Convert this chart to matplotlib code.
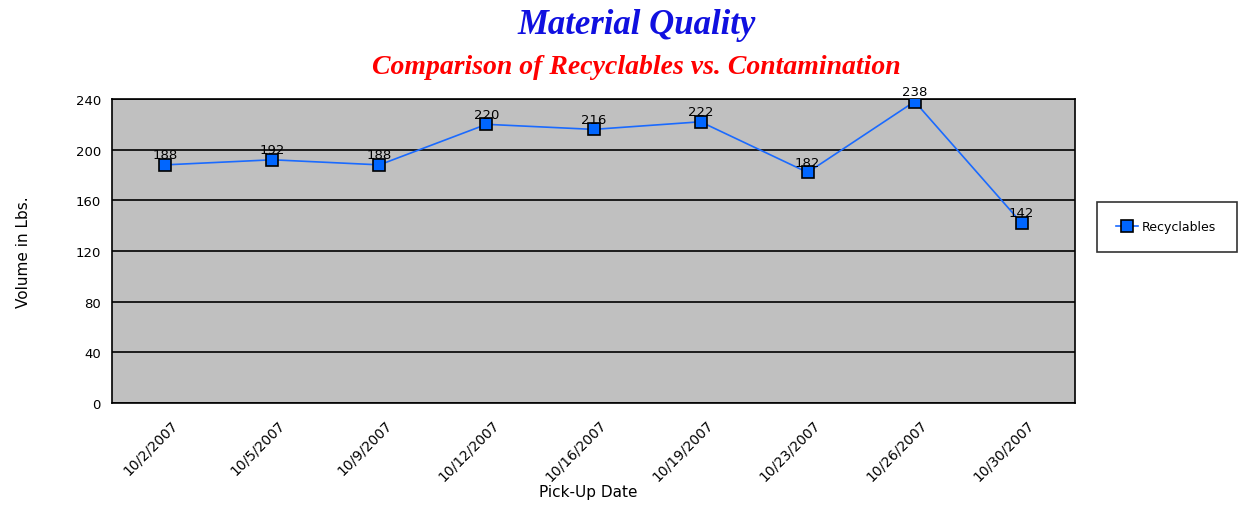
import numpy as np
import matplotlib.pyplot as plt
import matplotlib.transforms as mtransforms

# pick-up dates and weights
dates = ["10/2/2007", "10/5/2007", "10/9/2007", "10/12/2007", "10/16/2007",
         "10/19/2007", "10/23/2007", "10/26/2007", "10/30/2007"]
recyclables = [188, 192, 188, 220, 216, 222, 182, 238, 142]
yticks = [0, 40, 80, 120, 160, 200, 240]

fig = plt.figure(figsize=(12.43, 5.06), dpi=100)
ax = fig.add_axes([0.090, 0.2016, 0.775, 0.6008])
ax.set_facecolor("#c0c0c0")

x = np.arange(len(dates))
ax.plot(x, recyclables, color="#1a6aff", linewidth=1.2, marker="s", markersize=9,
        markerfacecolor="#0066ff", markeredgecolor="black", markeredgewidth=1.2,
        label="Recyclables", zorder=3)
for xi, v in zip(x, recyclables):
    ax.text(xi, v + 3, str(v), ha="center", va="bottom", fontsize=9.5, zorder=4)

ax.set_xlim(-0.5, len(dates) - 0.5)
ax.set_ylim(0, 240)
ax.set_yticks(yticks)
ax.yaxis.grid(True, color="black", linewidth=1.2)
ax.set_axisbelow(True)
ax.set_xticks(x)
ax.set_xticklabels([])
# date labels drawn by hand so they sit a little right of each tick
shift = mtransforms.ScaledTranslation(0.15, -0.14, fig.dpi_scale_trans)
trans = ax.get_xaxis_transform() + shift
for xi, d in zip(x, dates):
    ax.text(xi, 0, d, transform=trans, rotation=45, ha="right", va="top",
            fontsize=10, clip_on=False)
ax.tick_params(axis="x", length=0)
ax.tick_params(axis="y", length=0, labelsize=9.5, pad=8)
for s in ax.spines.values():
    s.set_linewidth(1.2)

ax.set_ylabel("Volume in Lbs.", fontsize=11, labelpad=32)
fig.text(0.473, 0.026, "Pick-Up Date", ha="center", va="center", fontsize=11)

fig.text(0.512, 0.95, "Material Quality", ha="center", va="center", color="#1010e0",
         fontsize=25, fontweight="bold", style="italic", family="Liberation Serif")
fig.text(0.512, 0.866, "Comparison of Recyclables vs. Contamination", ha="center",
         va="center", color="#ff0000", fontsize=20, fontweight="bold", style="italic",
         family="Liberation Serif")

leg = fig.legend(loc="center", bbox_to_anchor=(0.8826, 0.494, 0.1126, 0.111),
                 mode="expand", fontsize=9, frameon=True, fancybox=False,
                 edgecolor="black", borderpad=1.5, handlelength=1.8,
                 handletextpad=0.3, borderaxespad=0)
leg.get_frame().set_linewidth(1.2)

fig.savefig("out.png", dpi=100)
